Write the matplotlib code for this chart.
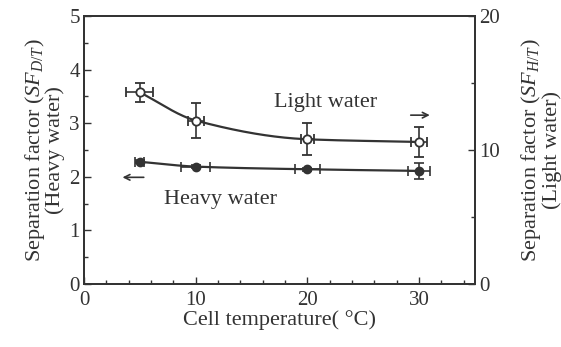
import matplotlib
matplotlib.use("Agg")
import matplotlib.pyplot as plt
import numpy as np
from matplotlib.ticker import MultipleLocator

plt.rcParams['font.family'] = ['Liberation Serif', 'DejaVu Serif']
plt.rcParams['mathtext.fontset'] = 'custom'
plt.rcParams['mathtext.rm'] = 'Liberation Serif'
plt.rcParams['mathtext.it'] = 'Liberation Serif:italic'

# cell temperature (C)
temp = [5, 10, 20, 30]

# heavy water, left axis
heavy = [2.28, 2.19, 2.14, 2.11]
heavy_yerr = [0.03, 0.03, 0.03, 0.15]
heavy_xerr = [0.4, 1.3, 1.1, 1.0]

# light water, right axis
light = [14.3, 12.2, 10.8, 10.6]
light_yerr = [0.7, 1.3, 1.2, 1.1]
light_xerr = [1.2, 0.7, 0.6, 0.7]


def pchip(x, y, xs):
	# monotone cubic curve through the points, only for drawing the line
	x = np.asarray(x, float)
	y = np.asarray(y, float)
	h = np.diff(x)
	d = np.diff(y) / h
	m = np.zeros_like(y)
	for k in range(1, len(x) - 1):
		if d[k - 1] * d[k] > 0:
			w1 = 2 * h[k] + h[k - 1]
			w2 = h[k] + 2 * h[k - 1]
			m[k] = (w1 + w2) / (w1 / d[k - 1] + w2 / d[k])
	m[0] = d[0]
	m[-1] = d[-1]
	out = []
	for xv in xs:
		k = min(np.searchsorted(x, xv) - 1, len(x) - 2)
		k = max(k, 0)
		t = (xv - x[k]) / h[k]
		h00 = 2 * t**3 - 3 * t**2 + 1
		h10 = t**3 - 2 * t**2 + t
		h01 = -2 * t**3 + 3 * t**2
		h11 = t**3 - t**2
		out.append(h00 * y[k] + h10 * h[k] * m[k] + h01 * y[k + 1] + h11 * h[k] * m[k + 1])
	return np.array(out)


fig = plt.figure(figsize=(5.61, 3.47), dpi=100)
ax = fig.add_axes([0.1497, 0.1816, 0.697, 0.7723])
ax2 = ax.twinx()

xs = np.linspace(temp[0], temp[-1], 200)
col = '#333333'

ax.plot(xs, pchip(temp, heavy, xs), color=col, lw=1.6)
ax.errorbar(temp, heavy, yerr=heavy_yerr, xerr=heavy_xerr, fmt='o', color=col,
	ms=6, mfc=col, mec=col, ecolor=col, elinewidth=1.2, capsize=3.5, capthick=1.2)

ax2.plot(xs, pchip(temp, light, xs), color=col, lw=1.6)
ax2.errorbar(temp, light, yerr=light_yerr, xerr=light_xerr, fmt='o', color=col,
	ms=6, mfc='white', mec=col, mew=1.3, ecolor=col, elinewidth=1.2, capsize=3.5, capthick=1.2)

ax.set_xlim(0, 35)
ax.set_ylim(0, 5)
ax2.set_ylim(0, 20)

ax.xaxis.set_major_locator(MultipleLocator(10))
ax.xaxis.set_minor_locator(MultipleLocator(2))
ax.yaxis.set_major_locator(MultipleLocator(1))
ax.yaxis.set_minor_locator(MultipleLocator(0.5))
ax2.yaxis.set_major_locator(MultipleLocator(10))
ax2.yaxis.set_minor_locator(MultipleLocator(5))

for a in (ax, ax2):
	a.tick_params(which='both', direction='in', labelsize=15, color=col, labelcolor=col)
	a.tick_params(which='major', length=5, width=1)
	a.tick_params(which='minor', length=3, width=1)
	for s in a.spines.values():
		s.set_color(col)
		s.set_linewidth(1.3)
ax.tick_params(axis='x', pad=5)
ax.tick_params(axis='y', pad=3)
ax2.tick_params(axis='y', pad=3)

ax.set_xlabel('Cell temperature( \u00b0C)', fontsize=16, color=col, labelpad=0)
ax.set_ylabel('Separation factor ($\\mathit{SF}_{D/T}$)\n(Heavy water)', fontsize=16,
	color=col, linespacing=0.9, labelpad=3)
ax2.set_ylabel('Separation factor ($\\mathit{SF}_{H/T}$)\n(Light water)', fontsize=16,
	color=col, linespacing=0.9, labelpad=14)

ax.text(21.6, 3.38, 'Light water', fontsize=16, color=col, ha='center', va='center')
ax.annotate('', xy=(31.2, 3.15), xytext=(29.0, 3.15),
	arrowprops=dict(arrowstyle='->', color=col, lw=1.2))
ax.text(12.2, 1.57, 'Heavy water', fontsize=16, color=col, ha='center', va='center')
ax.annotate('', xy=(3.2, 1.99), xytext=(5.6, 1.99),
	arrowprops=dict(arrowstyle='->', color=col, lw=1.2))

fig.savefig('out.png', dpi=100)
